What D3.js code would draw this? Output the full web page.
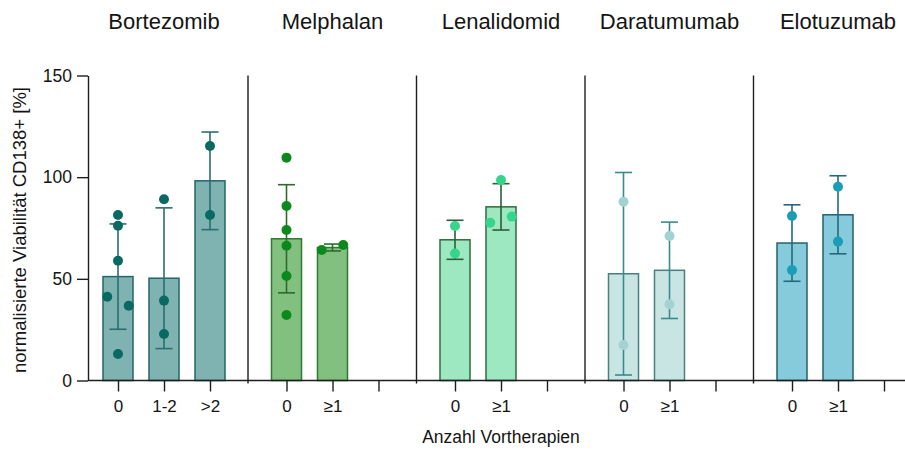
<!DOCTYPE html>
<html>
<head>
<meta charset="utf-8">
<script src="https://cdn.jsdelivr.net/npm/d3@7"></script>
<style>
  body { margin: 0; background: #fff; }
  svg { display: block; }
  text { font-family: "Liberation Sans", Arial, Helvetica, sans-serif; fill: #141414; }
</style>
</head>
<body>
<svg id="chart" width="905" height="451"></svg>
<script>
// Drugs (panels) and the therapy-line groups inside each panel
const drugs = ["Bortezomib", "Melphalan", "Lenalidomid", "Daratumumab", "Elotuzumab"];
const slotLabels = [
  ["0", "1-2", ">2"],
  ["0", "≥1", ""],
  ["0", "≥1", ""],
  ["0", "≥1", ""],
  ["0", "≥1", ""]
];

// Bar heights (mean) and error bars (SD), normalised viability in %
const means = [
  [51.1, 50.3, 98.2],
  [69.7, 65.4],
  [69.2, 85.4],
  [52.5, 54.2],
  [67.6, 81.5]
];
const sds = [
  [25.9, 34.6, 24.0],
  [26.6, 1.7],
  [9.6, 11.4],
  [49.8, 23.7],
  [18.8, 19.2]
];

// Individual patient values
const points = [
  [[41.2, 81.4, 76.1, 58.9, 36.8, 13.0], [89.1, 39.3, 22.9], [115.3, 81.4]],
  [[109.6, 85.8, 74.0, 66.3, 51.4, 32.2], [64.2, 66.6]],
  [[76.0, 62.5], [98.6, 77.6, 80.6]],
  [[87.9, 17.5], [71.1, 37.5]],
  [[80.9, 54.3], [95.3, 68.3]]
];

const yTicks = [0, 50, 100, 150];

// Colour per panel
const barFill   = ["#7fb3b1", "#82c07f", "#9de8c1", "#c8e5e4", "#86cbdc"];
const barStroke = ["#24656a", "#2f7a32", "#2e6d3c", "#4a7f80", "#24616f"];
const dotFill   = ["#0b6964", "#0b8a1b", "#36d58b", "#a2d3d2", "#1a9db6"];
const errStroke = ["#2a6d72", "#2c6b2e", "#2e5e36", "#3a8a8c", "#266a79"];

const svg = d3.select("#chart");

const y = d3.scaleLinear().domain([0, 150]).range([380.5, 75.5]);
const panel = d3.scaleBand().domain(drugs).range([79.5, 79.5 + 5 * 168.5]);
const slot = d3.scalePoint().domain([0, 1, 2]).range([38.5, 130.5]);

const barW = 30, capW = 17, r = 5, spread = 21.5;
const axisColor = "#1e1e1e";

// Panel separators
svg.append("g").selectAll("line")
  .data(drugs.slice(1))
  .join("line")
  .attr("x1", d => panel(d)).attr("x2", d => panel(d))
  .attr("y1", y(150)).attr("y2", y(0) + 3)
  .attr("stroke", axisColor).attr("stroke-width", 1.4);

// Panel titles
svg.append("g").selectAll("text")
  .data(drugs)
  .join("text")
  .attr("x", d => panel(d) + slot(1))
  .attr("y", 28.5)
  .attr("text-anchor", "middle")
  .style("font-size", "22px")
  .text(d => d);

// Bars, error bars and individual values per panel
drugs.forEach((drug, gi) => {
  const g = svg.append("g").attr("transform", `translate(${panel(drug)},0)`);
  const data = means[gi].map((m, si) => ({ si, m, sd: sds[gi][si], pts: points[gi][si] }));

  g.selectAll("rect.bar")
    .data(data)
    .join("rect")
    .attr("class", "bar")
    .attr("x", d => slot(d.si) - barW / 2)
    .attr("width", barW)
    .attr("y", d => y(d.m))
    .attr("height", d => y(0) - y(d.m))
    .attr("fill", barFill[gi])
    .attr("stroke", barStroke[gi])
    .attr("stroke-width", 1.5);

  const err = g.selectAll("g.err").data(data).join("g").attr("class", "err")
    .attr("stroke", errStroke[gi]).attr("stroke-width", 1.6);
  err.append("line")
    .attr("x1", d => slot(d.si)).attr("x2", d => slot(d.si))
    .attr("y1", d => y(d.m + d.sd)).attr("y2", d => y(Math.max(0, d.m - d.sd)));
  err.append("line")
    .attr("x1", d => slot(d.si) - capW / 2).attr("x2", d => slot(d.si) + capW / 2)
    .attr("y1", d => y(d.m + d.sd)).attr("y2", d => y(d.m + d.sd));
  err.append("line")
    .attr("x1", d => slot(d.si) - capW / 2).attr("x2", d => slot(d.si) + capW / 2)
    .attr("y1", d => y(Math.max(0, d.m - d.sd))).attr("y2", d => y(Math.max(0, d.m - d.sd)));

  // Spread overlapping dots sideways, keeping their order in the data
  data.forEach(d => {
    const order = d.pts.map((v, i) => i).sort((a, b) => d.pts[a] - d.pts[b]);
    const clusters = [];
    order.forEach(i => {
      const last = clusters[clusters.length - 1];
      if (last && Math.abs(y(d.pts[last[last.length - 1]]) - y(d.pts[i])) < 2 * r) last.push(i);
      else clusters.push([i]);
    });
    const dx = new Array(d.pts.length).fill(0);
    clusters.forEach(c => {
      c.sort((a, b) => a - b);
      c.forEach((i, k) => { dx[i] = (k - (c.length - 1) / 2) * spread; });
    });
    g.append("g").selectAll("circle")
      .data(d.pts.map((v, i) => ({ v, dx: dx[i] })))
      .join("circle")
      .attr("cx", p => slot(d.si) + p.dx)
      .attr("cy", p => y(p.v))
      .attr("r", r)
      .attr("fill", dotFill[gi]);
  });

  // Category axis of the panel
  const ax = g.append("g")
    .attr("transform", `translate(0,${y(0)})`)
    .call(d3.axisBottom(slot).tickSize(11).tickSizeOuter(0).tickPadding(8)
      .tickFormat(i => slotLabels[gi][i]));
  ax.select(".domain").remove();
  ax.selectAll("line").attr("stroke", axisColor).attr("stroke-width", 1.4);
  ax.selectAll("text").style("font-size", "17px").attr("fill", "#141414");
});

// Baseline across all panels
svg.append("line")
  .attr("x1", 88).attr("x2", 905)
  .attr("y1", y(0)).attr("y2", y(0))
  .attr("stroke", axisColor).attr("stroke-width", 1.4);

// Value axis
const yAxis = svg.append("g")
  .attr("transform", "translate(88,0)")
  .call(d3.axisLeft(y).tickValues(yTicks).tickSize(11).tickSizeOuter(0).tickPadding(5));
yAxis.select(".domain").attr("stroke", axisColor).attr("stroke-width", 1.4);
yAxis.selectAll("line").attr("stroke", axisColor).attr("stroke-width", 1.4);
yAxis.selectAll("text").style("font-size", "17.5px").attr("fill", "#141414");

// Axis titles
svg.append("text")
  .attr("transform", `translate(26,${(y(0) + y(150)) / 2 + 2}) rotate(-90)`)
  .attr("text-anchor", "middle")
  .style("font-size", "18.5px")
  .text("normalisierte Viabilität CD138+ [%]");

svg.append("text")
  .attr("x", 501)
  .attr("y", 443)
  .attr("text-anchor", "middle")
  .style("font-size", "17.5px")
  .text("Anzahl Vortherapien");
</script>
</body>
</html>
